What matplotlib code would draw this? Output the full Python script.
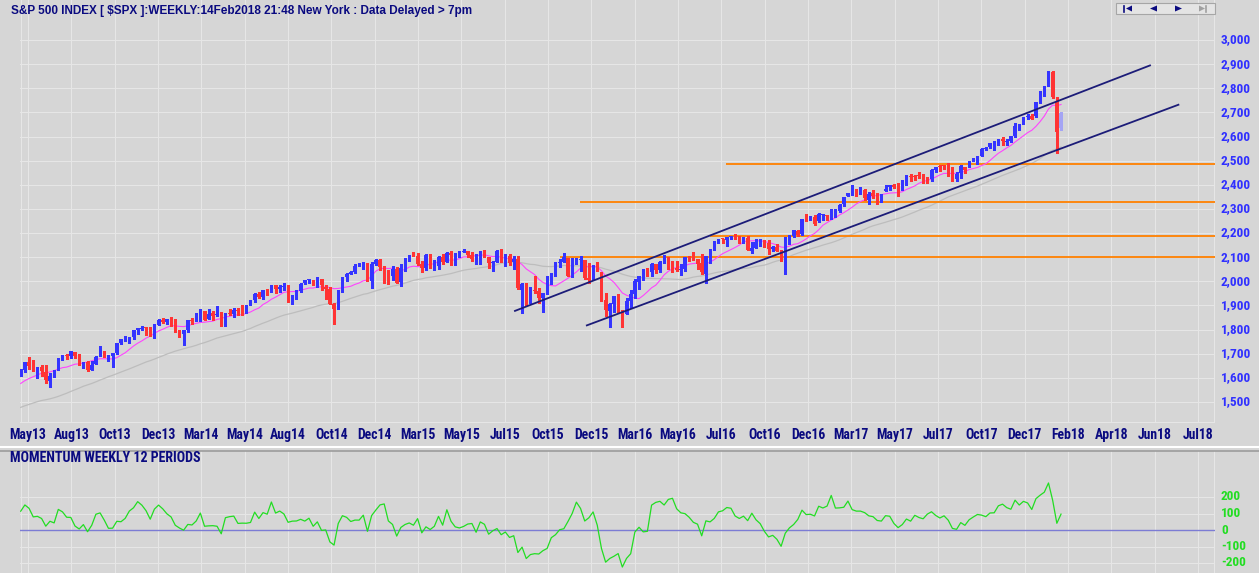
import matplotlib
matplotlib.use("Agg")
import matplotlib.pyplot as plt
from matplotlib.patches import Polygon, Rectangle
from matplotlib.transforms import blended_transform_factory as blend
from matplotlib import font_manager
from matplotlib.font_manager import FontProperties
from matplotlib.textpath import TextPath
import numpy as np

# ---------------- data ----------------
# weekly closes before the first visible bar (needed for the moving averages / momentum)
history_closes = [1386.0, 1391.0, 1405.9, 1418.2, 1411.1, 1406.6, 1437.9, 1465.8, 1460.2, 1440.7,
                  1460.9, 1428.6, 1433.2, 1411.9, 1414.2, 1379.9, 1359.9, 1409.2, 1416.2, 1418.1,
                  1413.6, 1430.2, 1402.4, 1466.5, 1472.1, 1486.0, 1503.0, 1513.2, 1517.9, 1519.8,
                  1515.6, 1518.2, 1551.2, 1560.7, 1556.9, 1569.2, 1553.3, 1588.9, 1555.3, 1582.2,
                  1614.4]

opens = [1614, 1633, 1667, 1650, 1631, 1644, 1626, 1588, 1607, 1632, 1680, 1692, 1691, 1709, 1690, 1656,
         1664, 1633, 1656, 1691, 1709, 1687, 1691, 1703, 1745, 1759, 1762, 1771, 1798, 1804, 1806, 1806,
         1776, 1819, 1841, 1832, 1842, 1837, 1791, 1783, 1798, 1839, 1836, 1857, 1878, 1842, 1867, 1859,
         1865, 1816, 1865, 1863, 1880, 1879, 1878, 1902, 1923, 1949, 1934, 1962, 1961, 1985, 1968, 1977,
         1978, 1926, 1933, 1958, 1992, 2004, 2007, 1986, 2009, 1978, 1967, 1905, 1887, 1965, 2018, 2032,
         2039, 2064, 2065, 2074, 2003, 2071, 2088, 2057, 2045, 2020, 2050, 1996, 2055, 2097, 2110, 2105,
         2072, 2055, 2107, 2064, 2064, 2102, 2082, 2119, 2105, 2115, 2122, 2125, 2108, 2092, 2091, 2110,
         2102, 2075, 2080, 2127, 2079, 2104, 2080, 2091, 1966, 1986, 1921, 1963, 1960, 1932, 1952, 2015,
         2033, 2076, 2080, 2096, 2022, 2090, 2090, 2090, 2013, 2010, 2061, 2038, 1923, 1878, 1906, 1937,
         1874, 1866, 1917, 1947, 1996, 2020, 2049, 2037, 2073, 2047, 2078, 2089, 2067, 2057, 2047, 2052,
         2100, 2100, 2091, 2075, 2031, 2101, 2131, 2162, 2175, 2173, 2183, 2186, 2183, 2170, 2181, 2125,
         2140, 2160, 2168, 2160, 2133, 2142, 2129, 2100, 2165, 2186, 2210, 2194, 2259, 2260, 2266, 2251,
         2273, 2272, 2267, 2286, 2292, 2319, 2354, 2367, 2380, 2371, 2379, 2336, 2364, 2357, 2329, 2375,
         2389, 2400, 2393, 2387, 2415, 2436, 2434, 2442, 2440, 2431, 2426, 2460, 2473, 2477, 2479, 2454,
         2425, 2447, 2474, 2474, 2502, 2503, 2521, 2547, 2555, 2578, 2583, 2588, 2576, 2580, 2604, 2645,
         2652, 2680, 2684, 2683, 2747, 2798, 2809, 2867, 2741, 2636]
highs = [1635, 1667.5, 1687, 1674, 1646, 1654, 1654, 1620, 1632, 1680, 1693, 1698, 1710, 1709, 1699, 1664,
         1670, 1670, 1689, 1730, 1711, 1696, 1704, 1745, 1760, 1775, 1771, 1798, 1805, 1814, 1811, 1809,
         1823, 1844, 1849, 1843, 1851, 1844, 1798, 1798, 1841, 1847, 1867, 1884, 1878, 1884, 1875, 1897,
         1872, 1869, 1884, 1891, 1889, 1902, 1901, 1924, 1950, 1956, 1964, 1968, 1986, 1985, 1985, 1991,
         1984, 1942, 1964, 1995, 2005, 2011, 2007, 2019, 2009, 1986, 1977, 1912, 1965, 2018, 2034, 2041,
         2071, 2076, 2080, 2075, 2078, 2094, 2093, 2064, 2046, 2065, 2058, 2072, 2097, 2111, 2120, 2118,
         2083, 2115, 2115, 2088, 2103, 2112, 2121, 2126, 2118, 2124, 2135, 2126, 2122, 2115, 2127, 2130,
         2102, 2085, 2128, 2133, 2114, 2113, 2105, 2103, 1994, 1993, 1975, 2021, 1974, 1951, 2020, 2034,
         2080, 2094, 2117, 2097, 2097, 2095, 2104, 2090, 2077, 2067, 2082, 2038, 1950, 1909, 1940, 1947,
         1882, 1931, 1963, 2009, 2022, 2052, 2057, 2075, 2073, 2083, 2111, 2099, 2085, 2085, 2072, 2100,
         2103, 2121, 2091, 2113, 2103, 2132, 2169, 2176, 2177, 2183, 2189, 2194, 2188, 2185, 2188, 2163,
         2175, 2175, 2170, 2170, 2148, 2155, 2131, 2182, 2190, 2213, 2214, 2260, 2278, 2272, 2274, 2282,
         2279, 2273, 2301, 2298, 2319, 2351, 2368, 2401, 2383, 2390, 2382, 2370, 2378, 2366, 2362, 2398,
         2399, 2404, 2406, 2419, 2440, 2446, 2440, 2454, 2444, 2433, 2464, 2475, 2484, 2480, 2491, 2475,
         2454, 2480, 2475, 2500, 2509, 2519, 2553, 2558, 2575, 2583, 2588, 2597, 2590, 2604, 2658, 2652,
         2680, 2695, 2692, 2743, 2787, 2810, 2873, 2871, 2763, 2701]
lows = [1607, 1623, 1635, 1630, 1598, 1608, 1577, 1560, 1604, 1631, 1674, 1676, 1681, 1684, 1654, 1639,
        1627, 1633, 1656, 1691, 1687, 1670, 1646, 1700, 1741, 1752, 1746, 1761, 1780, 1800, 1779, 1772,
        1767, 1818, 1827, 1823, 1815, 1790, 1770, 1738, 1791, 1825, 1835, 1834, 1839, 1842, 1839, 1858,
        1814, 1816, 1859, 1851, 1859, 1862, 1868, 1902, 1915, 1930, 1925, 1944, 1955, 1952, 1955, 1965,
        1916, 1905, 1928, 1956, 1990, 1995, 1983, 1978, 1965, 1926, 1905, 1821, 1886, 1956, 2002, 2029,
        2034, 2062, 2049, 2002, 1973, 2068, 2046, 1992, 1988, 2004, 1994, 1981, 2041, 2085, 2103, 2066,
        2040, 2045, 2056, 2046, 2052, 2072, 2081, 2068, 2068, 2099, 2120, 2099, 2085, 2072, 2072, 2101,
        2056, 2044, 2080, 2079, 2063, 2067, 2052, 1970, 1867, 1903, 1911, 1953, 1909, 1872, 1946, 1990,
        2021, 2058, 2080, 2022, 2019, 2070, 2042, 2008, 1993, 2005, 2043, 1918, 1857, 1812, 1872, 1872,
        1810, 1866, 1891, 1932, 1969, 2005, 2022, 2022, 2033, 2039, 2075, 2052, 2040, 2043, 2026, 2043,
        2085, 2087, 2050, 2032, 1992, 2074, 2131, 2159, 2159, 2148, 2177, 2175, 2159, 2157, 2127.8, 2119,
        2139, 2145, 2143, 2115, 2124, 2125, 2084, 2029, 2156, 2183, 2187, 2193, 2249, 2253, 2233, 2245,
        2254, 2254, 2257, 2267, 2288, 2313, 2352, 2357, 2354, 2360, 2336, 2322, 2344, 2322, 2328, 2375,
        2380, 2387, 2353, 2379, 2401, 2415, 2419, 2428, 2406, 2408, 2415, 2452, 2459, 2467, 2438, 2417,
        2417, 2428, 2447, 2474, 2497, 2488, 2520, 2543, 2553, 2544, 2566, 2566, 2564, 2576, 2600, 2625,
        2651, 2674, 2673, 2682, 2738, 2769, 2808, 2759, 2533, 2625]
closes = [1633.7, 1667.5, 1649.6, 1630.7, 1643.4, 1626.7, 1592.4, 1606.3, 1631.9, 1680.2, 1692.1, 1691.7,
          1709.7, 1691.4, 1655.8, 1663.5, 1633.0, 1655.2, 1688.0, 1709.9, 1691.8, 1690.5, 1703.2, 1744.5,
          1759.8, 1761.6, 1770.6, 1798.2, 1804.8, 1805.8, 1805.1, 1775.3, 1818.3, 1841.4, 1831.4, 1842.4,
          1838.7, 1790.3, 1782.6, 1797.0, 1838.6, 1836.3, 1859.5, 1878.0, 1841.1, 1866.5, 1857.6, 1865.1,
          1815.7, 1864.9, 1863.4, 1881.1, 1878.5, 1877.9, 1900.5, 1923.6, 1949.4, 1936.2, 1962.9, 1961.0,
          1985.4, 1967.6, 1978.2, 1978.3, 1925.2, 1931.6, 1955.1, 1988.4, 2003.4, 2007.7, 1985.5, 2010.4,
          1982.9, 1967.9, 1906.1, 1886.8, 1964.6, 2018.1, 2031.9, 2039.8, 2063.5, 2067.6, 2075.4, 2002.3,
          2070.7, 2088.8, 2058.2, 2044.8, 2019.4, 2051.8, 1995.0, 2055.5, 2097.0, 2110.3, 2104.5, 2071.3,
          2053.4, 2108.1, 2061.0, 2067.0, 2102.1, 2081.2, 2117.7, 2108.3, 2116.1, 2122.7, 2126.1, 2107.4,
          2092.8, 2094.1, 2110.0, 2101.5, 2076.8, 2076.6, 2126.6, 2079.7, 2103.8, 2077.6, 2091.5, 1970.9,
          1988.9, 1921.2, 1961.1, 1958.0, 1931.3, 1951.4, 2014.9, 2033.1, 2075.2, 2079.4, 2099.2, 2023.0,
          2089.2, 2090.1, 2091.7, 2012.4, 2005.6, 2061.0, 2043.9, 1922.0, 1880.3, 1906.9, 1940.2, 1880.1,
          1864.8, 1917.8, 1948.1, 2000.0, 2022.2, 2049.6, 2035.9, 2072.8, 2047.6, 2080.7, 2091.6, 2065.3,
          2057.1, 2046.6, 2052.3, 2099.1, 2099.1, 2096.1, 2071.2, 2037.4, 2103.0, 2129.9, 2161.7, 2175.0,
          2173.6, 2182.9, 2184.1, 2183.9, 2169.0, 2180.0, 2127.8, 2139.2, 2164.7, 2168.3, 2153.7, 2133.0,
          2141.2, 2126.4, 2085.2, 2164.5, 2181.9, 2213.4, 2192.0, 2259.5, 2258.1, 2263.8, 2238.8, 2277.0,
          2274.6, 2271.3, 2294.7, 2297.4, 2316.1, 2351.2, 2367.3, 2383.1, 2372.6, 2378.3, 2344.0, 2362.7,
          2355.5, 2329.0, 2348.7, 2384.2, 2399.3, 2390.9, 2381.7, 2415.8, 2439.1, 2431.8, 2433.2, 2438.3,
          2423.4, 2425.2, 2459.3, 2472.5, 2472.1, 2476.8, 2441.3, 2425.6, 2443.1, 2476.6, 2461.4, 2500.2,
          2502.2, 2519.4, 2549.3, 2553.2, 2575.2, 2581.1, 2587.8, 2582.3, 2578.9, 2602.4, 2642.2, 2651.5,
          2675.8, 2683.3, 2673.6, 2743.2, 2786.2, 2810.3, 2872.9, 2762.1, 2619.6, 2698.6]

price_ticks = [1500, 1600, 1700, 1800, 1900, 2000, 2100, 2200, 2300, 2400, 2500, 2600, 2700, 2800, 2900, 3000]
price_labels = ['1,500', '1,600', '1,700', '1,800', '1,900', '2,000', '2,100', '2,200', '2,300', '2,400',
                '2,500', '2,600', '2,700', '2,800', '2,900', '3,000']
month_labels = ['May13', 'Aug13', 'Oct13', 'Dec13', 'Mar14', 'May14', 'Aug14', 'Oct14', 'Dec14', 'Mar15',
                'May15', 'Jul15', 'Oct15', 'Dec15', 'Mar16', 'May16', 'Jul16', 'Oct16', 'Dec16', 'Mar17',
                'May17', 'Jul17', 'Oct17', 'Dec17', 'Feb18', 'Apr18', 'Jun18', 'Jul18']
momentum_ticks = [-200, -100, 0, 100, 200]

# horizontal support / resistance lines (price, first bar)
level_prices = [2485, 2327, 2186, 2100]
level_start_bar = [168.8, 133.9, 165.0, 129.1]
# trend channel (bar index, price)
upper_bars, upper_prices = [118.1, 270.5], [1876, 2896]
lower_bars, lower_prices = [135.3, 277.3], [1816, 2733]

title = "S&P 500 INDEX [ \\$SPX ]:WEEKLY:14Feb2018 21:48 New York : Data Delayed > 7pm"
mom_title = "MOMENTUM WEEKLY 12 PERIODS"

# ---------------- style ----------------
W, H = 1259, 573
BG = '#d6d6d6'
GRID = '#e6e6e6'
NAVY = '#0a0a80'
BLUE = '#3434ff'
RED = '#ff3434'
LIGHTBLUE = '#a4a4f4'


def pick_font(sample, target_ratio):
    """Bold sans face whose ink width/height ratio for `sample` is closest to the target."""
    allowed = ('Liberation Sans', 'DejaVu Sans', 'Noto Sans', 'Roboto', 'Open Sans', 'Lato', 'Inter')
    best, best_err = FontProperties(family='Liberation Sans', weight='bold'), 1e9
    for f in font_manager.fontManager.ttflist:
        try:
            w = f.weight if isinstance(f.weight, int) else font_manager.weight_dict.get(f.weight, 400)
            if w < 600 or w > 800 or f.style != 'normal':
                continue
            if not f.name.startswith(allowed) or 'Mono' in f.name or 'CJK' in f.name \
                    or 'Serif' in f.name or 'Display' in f.name:
                continue
            fp = FontProperties(fname=f.fname)
            wid = TextPath((0, 0), sample, size=100, prop=fp).get_extents().width
            hgt = TextPath((0, 0), 'H', size=100, prop=fp).get_extents().height
            err = abs(wid / hgt - target_ratio)
            if err < best_err:
                best, best_err = fp, err
        except Exception:
            continue
    return best


LABEL_FP = pick_font('3,000', 3.0)
TITLE_FP = FontProperties(family='Liberation Sans', weight='bold')

X0, DX = 20.7, 4.178                 # pixel of bar 0, pixels per bar
PY0, PPX = 40.0, 0.2413              # pixel of 3000, pixels per price unit


def rect(x0, y0, x1, y1):
    return [x0 / W, 1 - y1 / H, (x1 - x0) / W, (y1 - y0) / H]


fig = plt.figure(figsize=(W / 100, H / 100), dpi=100)
fig.patch.set_facecolor(BG)

ax = fig.add_axes(rect(20, 0, 1215, 423))
axm = fig.add_axes(rect(20, 451, 1215, 573))
ov = fig.add_axes([0, 0, 1, 1], zorder=10)
ov.set_xlim(0, W)
ov.set_ylim(H, 0)
ov.axis('off')
ov.patch.set_alpha(0)

xl = ((20 - X0) / DX, (1215 - X0) / DX)
for a in (ax, axm):
    a.set_facecolor(BG)
    a.set_xlim(*xl)
    a.set_xticks([])
    a.set_yticks([])
    for s in a.spines.values():
        s.set_visible(False)

ax.set_ylim(3000 - (423 - PY0) / PPX, 3000 + PY0 / PPX)
axm.set_ylim(-(573 - 530) / 0.165, (530 - 451) / 0.165)

tick_pos = [(28 - X0) / DX + k * (43.333 / DX) for k in range(len(month_labels))]

# grids / borders (1 px)
GLW = 0.6
for p in price_ticks:
    ax.axhline(p, color=GRID, lw=GLW, zorder=0, antialiased=False)
for m in momentum_ticks:
    if m != 0:
        axm.axhline(m, color=GRID, lw=GLW, zorder=0, antialiased=False)
for a in (ax, axm):
    for t in tick_pos:
        a.axvline(t, color=GRID, lw=GLW, zorder=0, antialiased=False)
    a.axvline(xl[0] + 0.12, color=GRID, lw=GLW, zorder=0, antialiased=False)
    a.axvline(xl[1] - 0.12, color=GRID, lw=GLW, zorder=0, antialiased=False)
ax.axhline(ax.get_ylim()[0] + 3, color=GRID, lw=GLW, zorder=0, antialiased=False)

# indicators
allc = np.array(history_closes + closes, dtype=float)
nh = len(history_closes)
idx = np.arange(len(closes))


def sma(n):
    return np.array([allc[nh + i - n + 1: nh + i + 1].mean() for i in idx])


ma40 = sma(40)
ma10 = sma(10)
momentum = np.array([allc[nh + i] - allc[nh + i - 12] for i in idx])

ax.plot(idx, ma40, color='#bdbdbd', lw=0.9, zorder=1)
ax.hlines(level_prices, level_start_bar, xl[1], color='#ff8000', lw=1.3, zorder=2)
ax.plot(idx, ma10, color='#ff44ff', lw=0.8, zorder=3)

# candles
o, h, l, c = (np.array(v, dtype=float) for v in (opens, highs, lows, closes))
cols = np.where(c >= o, BLUE, RED).astype(object)
cols[-1] = LIGHTBLUE
ax.vlines(idx, l, h, colors=list(cols), lw=0.75, zorder=4, antialiased=False)
bottom = np.minimum(o, c)
height = np.maximum(np.abs(c - o), 4.0)
ax.bar(idx, height, bottom=bottom, width=0.75, color=list(cols), linewidth=0,
       zorder=5, antialiased=False)

# trend channel
ax.plot(upper_bars, upper_prices, color='#1c1c78', lw=1.3, zorder=6, solid_capstyle='butt')
ax.plot(lower_bars, lower_prices, color='#1c1c78', lw=1.3, zorder=6, solid_capstyle='butt')

# momentum panel
axm.axhline(0, color='#7c7cd4', lw=1.0, zorder=1)
axm.plot(idx, momentum, color='#22dd22', lw=0.9, zorder=3)

# ---------------- texts ----------------
fig.canvas.draw()
rend = fig.canvas.get_renderer()


def fit(t, target):
    w = t.get_window_extent(rend).width
    t.set_fontsize(t.get_fontsize() * target / w)
    return t.get_fontsize()


def fp_(base):
    return base.copy()


tt = ov.text(11, 11, title, ha='left', va='center', color=NAVY, fontproperties=fp_(TITLE_FP))
tt.set_fontsize(8)
fit(tt, 461)
mt = ov.text(10, 458.5, mom_title, ha='left', va='center', color=NAVY, fontproperties=fp_(LABEL_FP))
mt.set_fontsize(8)
fit(mt, 191)

tr_x = blend(ax.transData, ov.transData)
probe = ov.text(0, 0, month_labels[0], fontproperties=fp_(LABEL_FP))
probe.set_fontsize(9)
xs = fit(probe, 37)
probe.remove()
for pos, lab in zip(tick_pos, month_labels):
    t = ax.text(pos, 435, lab, transform=tr_x, ha='center', va='center', color=NAVY,
                fontproperties=fp_(LABEL_FP), clip_on=False)
    t.set_fontsize(xs)

tr_p = blend(ov.transData, ax.transData)
probe = ov.text(0, 0, price_labels[-1], fontproperties=fp_(LABEL_FP))
probe.set_fontsize(9)
ps = fit(probe, 30.5)
probe.remove()
for p, lab in zip(price_ticks, price_labels):
    t = ov.text(1221, p, lab, transform=tr_p, ha='left', va='center', color='#3030ff',
                fontproperties=fp_(LABEL_FP))
    t.set_fontsize(ps)

tr_m = blend(ov.transData, axm.transData)
for m in momentum_ticks:
    t = ov.text(1221, m, str(m), transform=tr_m, ha='left', va='center', color='#22dd22',
                fontproperties=fp_(LABEL_FP), clip_on=False)
    t.set_fontsize(ps)

# panel separator
ov.plot([0, W], [447, 447], color='white', lw=1.5, solid_capstyle='butt')
ov.plot([0, W], [450.5, 450.5], color='#9c9c9c', lw=1.2, solid_capstyle='butt')

# navigation buttons
ov.add_patch(Rectangle((1116, 3), 99, 11, facecolor='#e4e4e4', edgecolor='#a6a6a6', lw=0.8))
ov.plot([1124.5, 1124.5], [5.5, 11.5], color=NAVY, lw=1.2)
ov.add_patch(Polygon([(1126, 8.5), (1132, 5.5), (1132, 11.5)], closed=True, color=NAVY, lw=0))
ov.add_patch(Polygon([(1150, 8.5), (1157, 5.5), (1157, 11.5)], closed=True, color=NAVY, lw=0))
ov.add_patch(Polygon([(1175, 5.5), (1175, 11.5), (1182, 8.5)], closed=True, color=NAVY, lw=0))
ov.add_patch(Polygon([(1199, 5.5), (1199, 11.5), (1205, 8.5)], closed=True, color='#a0a0a0', lw=0))
ov.plot([1206.5, 1206.5], [5.5, 11.5], color='#a0a0a0', lw=1.2)

fig.savefig('out.png', dpi=100, facecolor=BG)
